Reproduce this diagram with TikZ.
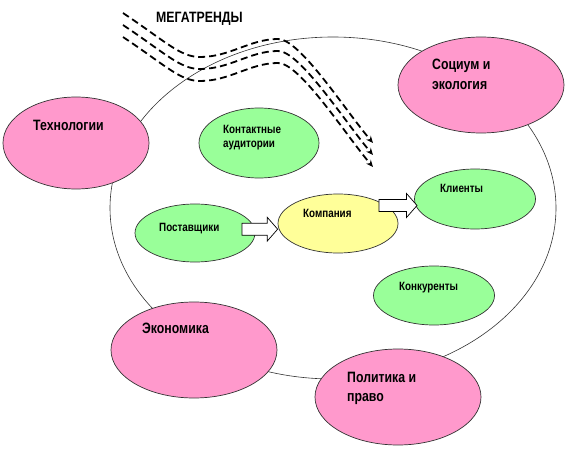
\documentclass[tikz,border=0pt]{standalone}
\usepackage{fontspec}
\newfontfamily\lab{Liberation Sans Bold}[FakeStretch=0.82]
\usetikzlibrary{shapes.geometric,arrows.meta,calc}
\definecolor{pinkf}{HTML}{FF99CC}
\definecolor{greenf}{HTML}{99FF99}
\definecolor{yellowf}{HTML}{FFFF99}
\tikzset{
  oval/.style={ellipse, draw=black!80, line width=0.7pt, inner sep=0pt},
  pinkoval/.style={oval, fill=pinkf, minimum width=166pt, minimum height=96pt},
  greenoval/.style={oval, fill=greenf, minimum width=120pt, minimum height=59pt},
  bigtxt/.style={font=\lab\fontsize{15}{18}\selectfont, anchor=base west, inner sep=0pt},
  smalltxt/.style={font=\lab\fontsize{12}{14}\selectfont, anchor=base west, inner sep=0pt},
  trend/.style={line width=1.8pt, dash pattern=on 7pt off 4pt, -{Stealth[length=7pt,width=6pt]}},
  barrow/.style={draw=black, line width=0.7pt, fill=white, line join=miter},
  frame/.style={draw=black!80, line width=0.6pt},
}
\newcommand\blockarrow[2]{\draw[barrow] let \p1=(#1), \p2=(#2) in
  (\x1,\y1+6pt) -- (\x2-10.5pt,\y1+6pt) -- (\x2-10.5pt,\y1+12pt) -- (\x2,\y1)
  -- (\x2-10.5pt,\y1-12pt) -- (\x2-10.5pt,\y1-6pt) -- (\x1,\y1-6pt) -- cycle;}
\begin{document}
\begin{tikzpicture}[x=1pt,y=-1pt]
\useasboundingbox (0,0) rectangle (570,449);
% environment
\node[ellipse, frame, minimum width=446pt, minimum height=342pt, inner sep=0pt] (env) at (333,208) {};
% megatrends
\foreach \k in {0,12,24}{
  \begin{scope}[shift={(0,\k)}]
    \coordinate (ts\k) at (123,13);
    \coordinate (te\k) at (373,143);
    \draw[trend] (ts\k) .. controls (165,41) and (180,57) .. (200,57)
      .. controls (230,57) and (250,39) .. (278,39)
      .. controls (300,39) and (345,110) .. (te\k);
  \end{scope}
}
\node[bigtxt] (mt) at (156,23) {МЕГАТРЕНДЫ};
% outer forces
\node[pinkoval, minimum width=146pt, minimum height=92pt] (tech) at (76,143) {};
\node[bigtxt] (techt) at (33,131) {Технологии};
\node[pinkoval] (soc) at (481,85) {};
\node[bigtxt] (soct1) at (432,70) {Социум и};
\node[bigtxt] (soct2) at (432,90) {экология};
\node[pinkoval] (econ) at (194,350) {};
\node[bigtxt] (econt) at (142,333) {Экономика};
\node[pinkoval] (pol) at (398,397) {};
\node[bigtxt] (polt1) at (347,382) {Политика и};
\node[bigtxt] (polt2) at (347,401) {право};
% inner actors
\node[greenoval, minimum height=70pt] (kont) at (259,143) {};
\node[smalltxt] (kontt1) at (223,134) {Контактные};
\node[smalltxt] (kontt2) at (223,148) {аудитории};
\node[greenoval, minimum height=58pt] (post) at (195,233) {};
\node[smalltxt] (postt) at (159,231) {Поставщики};
\node[oval, fill=yellowf, minimum width=120pt, minimum height=59pt] (komp) at (338,223.5) {};
\node[smalltxt] (kompt) at (303,218) {Компания};
\node[greenoval, minimum width=121pt, minimum height=60pt] (kl) at (475,199) {};
\node[smalltxt] (klt) at (440,193) {Клиенты};
\node[greenoval, minimum width=121pt] (konk) at (434,295.5) {};
\node[smalltxt] (konkt) at (399,290) {Конкуренты};
% block arrows
\coordinate (a1s) at (242,229.2);
\coordinate (a1e) at (komp.west |- a1s);
\coordinate (a2s) at (379,205.5);
\coordinate (a2e) at (417,205.5);
\blockarrow{a1s}{a1e}
\blockarrow{a2s}{a2e}
\end{tikzpicture}
\end{document}
